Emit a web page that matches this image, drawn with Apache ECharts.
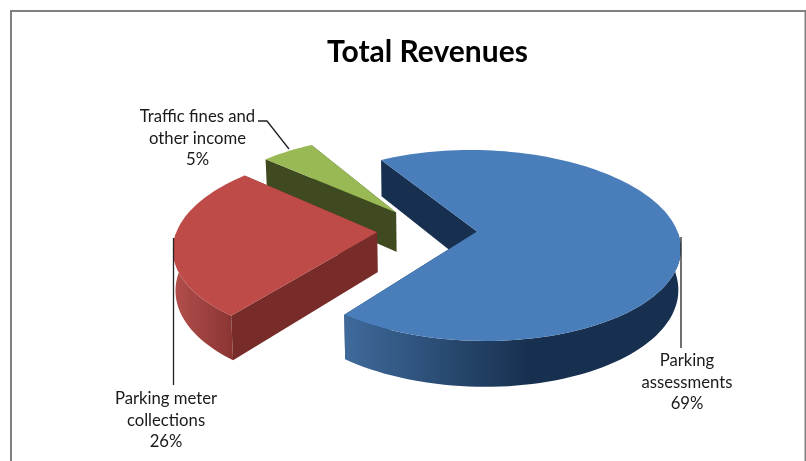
<!DOCTYPE html>
<html><head><meta charset="utf-8">
<style>html,body{margin:0;padding:0;background:#fff}#c{width:806px;height:461px}</style>
<script src="https://cdn.jsdelivr.net/npm/echarts@6/dist/echarts.min.js"></script>
</head><body><div id="c"></div>
<script>
const chartTitle = 'Total Revenues';
const categories = ['Parking\nassessments', 'Parking meter\ncollections', 'Traffic fines and\nother income'];
const values = [69, 26, 5];

// styling and layout, separate from the data
const topColors = ['#4a7ebb', '#be4b48', '#98b954'];
const cutColors = ['#17304f', '#772c2a', '#3f4a20'];
const rimStops = [
  [[0, '#3f6a9b'], [0.55, '#17304f'], [1, '#17304f']],
  [[0, '#b34f4c'], [1, '#8a3533']],
  [[0, '#3f4a20'], [1, '#3f4a20']]
];
const stackRank = [3, 2, 1];
const labelCenters = [[687, 382.5], [166, 420.5], [197.5, 138.5]];
const leaders = [
  [[681, 237], [681, 348]],
  [[173.5, 238], [173.5, 385]],
  [[258, 121], [267, 121], [289, 149]]
];
const CX = 427, CY = 230, RX = 200, RY = 93, PERSP = 0.146, DEPTH = 40, SHRINK = 0.99, EXPLODE = 0.25, START = 239.5;

const total = values.reduce((a, b) => a + b, 0);
function project(U, V, low) {
  const s = 1 / (1 - PERSP * V), k = low ? SHRINK : 1;
  return [CX + RX * U * s * k, CY + RY * V * s * k + (low ? DEPTH * s : 0)];
}
const rad = d => d * Math.PI / 180;

function renderSlice(params, api) {
  const i = params.dataIndex;
  let a0 = START;
  for (let j = 0; j < i; j++) a0 += values[j] / total * 360;
  const sweep = api.value(0) / total * 360, mid = rad(a0 + sweep / 2);
  const ou = EXPLODE * Math.cos(mid), ov = EXPLODE * Math.sin(mid);
  const rim = low => {
    const pts = [], n = Math.max(2, Math.ceil(sweep / 2));
    for (let k = 0; k <= n; k++) {
      const t = rad(a0 + sweep * k / n);
      pts.push(project(ou + Math.cos(t), ov + Math.sin(t), low));
    }
    return pts;
  };
  const top = rim(false), bottom = rim(true);
  const apexT = project(ou, ov, false), apexB = project(ou, ov, true);
  const base = stackRank[i] * 10;
  const poly = (points, fill, z) => ({
    type: 'polygon', shape: { points }, z2: base + z, silent: true,
    style: { fill, stroke: null }
  });
  const grad = { type: 'linear', x: 0, y: 0, x2: 1, y2: 0,
    colorStops: rimStops[i].map(s => ({ offset: s[0], color: s[1] })) };
  const visibleRim = [], visibleLow = [];
  top.forEach((p, k) => {
    const t = a0 + sweep * k / (top.length - 1);
    if (Math.sin(rad(t)) > -0.02) { visibleRim.push(p); visibleLow.push(bottom[k]); }
  });
  const c = cutColors[i];
  const children = [];
  children.push(poly([apexT, top[top.length - 1], bottom[bottom.length - 1], apexB], c, 0));
  if (visibleRim.length) children.push(poly(visibleRim.concat(visibleLow.slice().reverse()), grad, 1));
  children.push(poly([apexT, top[0], bottom[0], apexB], c, 2));
  children.push(poly([apexT].concat(top), topColors[i], 3));
  children.push({ type: 'polyline', shape: { points: leaders[i] }, z2: 100, silent: true,
    style: { stroke: '#222', lineWidth: 1.3, fill: null } });
  const pct = Math.round(api.value(0) / total * 100) + '%';
  children.push({ type: 'text', z2: 101, silent: true, x: labelCenters[i][0], y: labelCenters[i][1],
    style: { text: categories[i] + '\n' + pct, align: 'center', verticalAlign: 'middle',
      font: '16.7px Lato', lineHeight: 21.5, fill: '#1a1a1a' } });
  return { type: 'group', children };
}

const chart = echarts.init(document.getElementById('c'), null, { renderer: 'canvas' });
chart.setOption({
  animation: false,
  backgroundColor: '#fff',
  title: { text: chartTitle, left: 427.5, top: 37.5, padding: 0, textAlign: 'center',
    textStyle: { fontFamily: 'Lato', fontWeight: 'bold', fontSize: 30, color: '#000' } },
  graphic: [
    { type: 'polyline', shape: { points: [[11, 461], [11, 11], [805.5, 11], [805.5, 461]] }, silent: true,
      style: { stroke: '#7f7f7f', lineWidth: 2, fill: null } }
  ],
  series: [{
    type: 'custom', coordinateSystem: 'none', renderItem: renderSlice, clip: false,
    data: values.map(v => [v])
  }]
});
</script></body></html>
